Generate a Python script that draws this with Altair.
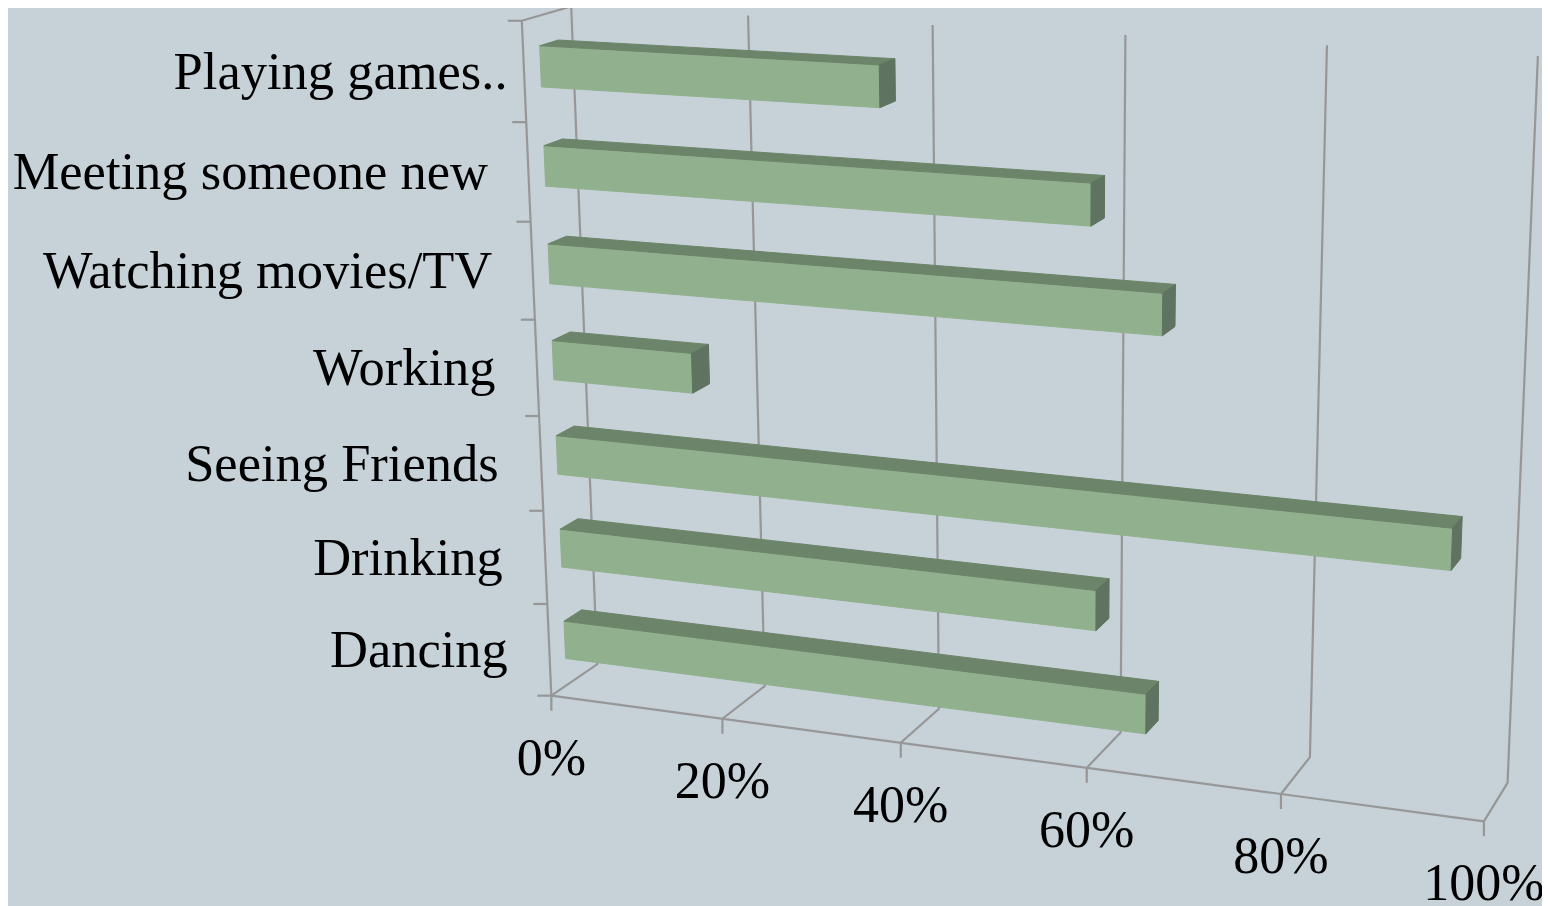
import numpy as np
import pandas as pd
import altair as alt

# ---- values (bottom row first) ----
categories = ["Dancing", "Drinking", "Seeing Friends", "Working",
              "Watching movies/TV", "Meeting someone new", "Playing games.."]
shares = [65, 59.7, 95.2, 16, 66.3, 59, 37.2]
tick_values = [0, 20, 40, 60, 80, 100]
tick_labels = ["0%", "20%", "40%", "60%", "80%", "100%"]

# ---- camera calibration of the 3-D box: (share/100, depth, height) -> page ----
floor_front_x = [551, 722, 901, 1087, 1281, 1484]
floor_front_y = [695, 719, 744, 768, 794, 820]
floor_back_x = [597, 765, 940, 1120, 1310, 1507]
floor_back_y = [664, 686, 708, 733, 757, 784]
top_back_x = [571, 748, 933, 1125, 1327, 1538]
top_back_y = [7, 15, 25, 35, 45, 56]
top_front_corner = (522, 21)

world, page = [], []
for i, t in enumerate(tick_values):
    world += [(t / 100, 0, 0), (t / 100, 1, 0), (t / 100, 1, 1)]
    page += [(floor_front_x[i], floor_front_y[i]), (floor_back_x[i], floor_back_y[i]),
             (top_back_x[i], top_back_y[i])]
world.append((0, 0, 1))
page.append(top_front_corner)
A, b = [], []
for (X, Y, Z), (u, v) in zip(world, page):
    A.append([X, Y, Z, 1, 0, 0, 0, 0, -u * X, -u * Y, -u * Z]); b.append(u)
    A.append([0, 0, 0, 0, X, Y, Z, 1, -v * X, -v * Y, -v * Z]); b.append(v)
p = np.linalg.lstsq(np.array(A, float), np.array(b, float), rcond=None)[0]


def project(share, depth, height):
    X, Y, Z = share / 100, depth, height
    w = p[8] * X + p[9] * Y + p[10] * Z + 1
    return ((p[0] * X + p[1] * Y + p[2] * Z + p[3]) / w,
            (p[4] * X + p[5] * Y + p[6] * Z + p[7]) / w)


n = len(categories)
D0, D1 = 0.33, 0.71
BAR = 0.41


def polygons(face):
    rows = []
    for i, s in enumerate(shares):
        h0 = (i + (1 - BAR) / 2) / n
        h1 = h0 + BAR / n
        if face == "front":
            pts = [(0, D0, h0), (s, D0, h0), (s, D0, h1), (0, D0, h1), (0, D0, h0)]
        elif face == "top":
            pts = [(0, D0, h1), (s, D0, h1), (s, D1, h1), (0, D1, h1), (0, D0, h1)]
        else:
            pts = [(s, D0, h0), (s, D1, h0), (s, D1, h1), (s, D0, h1), (s, D0, h0)]
        for k, q in enumerate(pts):
            x, y = project(*q)
            rows.append({"id": f"{face}{i}", "o": k, "x": x, "y": y})
    return pd.DataFrame(rows)


grid = []


def seg(name, pts):
    for k, (x, y) in enumerate(pts):
        grid.append({"id": name, "o": k, "x": x, "y": y})


for t in tick_values:
    a = project(t, 0, 0)
    seg(f"g{t}", [(a[0], a[1] + 15), a, project(t, 1, 0), project(t, 1, 1)])
seg("front_axis", [project(0, 0, 0), project(100, 0, 0)])
seg("wall", [project(0, 0, 0), project(0, 0, 1), project(0, 1, 1)])
for k in range(n + 1):
    a = project(0, 0, k / n)
    seg(f"t{k}", [(a[0] - 14, a[1]), a])
grid = pd.DataFrame(grid)

label_gap = [41.5, 42.5, 42.5, 41.5, 40.5, 40.5, 16.5]
cat_rows = []
for i, c in enumerate(categories):
    x, y = project(0, 0, (i + 0.5) / n)
    cat_rows.append({"t": c, "x": x - label_gap[i], "y": y + 17})
tick_rows = []
for t, lab in zip(tick_values, tick_labels):
    x, y = project(t, 0, 0)
    tick_rows.append({"t": lab, "x": x, "y": y + 79})

xe = alt.X("x:Q", axis=None, scale=alt.Scale(domain=[8, 1542], nice=False, zero=False))
ye = alt.Y("y:Q", axis=None, scale=alt.Scale(domain=[906, 8], nice=False, zero=False))


def lines(df, **mark):
    return alt.Chart(df).mark_line(**mark).encode(
        x=xe, y=ye, detail="id:N", order="o:Q")


def texts(rows, align, size):
    return alt.Chart(pd.DataFrame(rows)).mark_text(
        font="Liberation Serif", fontSize=size, color="#000000", align=align, baseline="alphabetic"
    ).encode(x=xe, y=ye, text="t:N")


chart = alt.layer(
    lines(grid, color="#979797", strokeWidth=2.2),
    lines(polygons("front"), fill="#91B18E", color="#91B18E", strokeWidth=1),
    lines(polygons("top"), fill="#6C8469", color="#6C8469", strokeWidth=1),
    lines(polygons("side"), fill="#5E7460", color="#5E7460", strokeWidth=1),
    texts(cat_rows, "right", 52.5),
    texts(tick_rows, "center", 52),
).properties(
    width=1534, height=898, background="#C6D1D8",
    padding=0, autosize=alt.AutoSizeParams(type="none")
).configure_view(stroke=None)

chart.save("out.html", embed_options={"renderer": "svg", "actions": False})
